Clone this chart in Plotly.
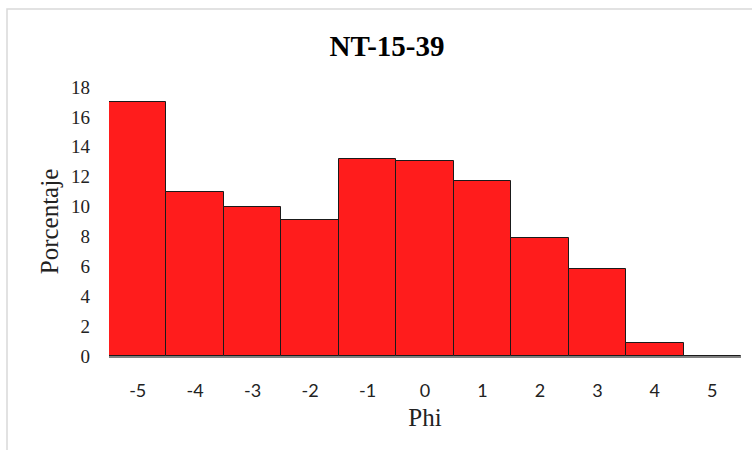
import plotly.graph_objects as go

phi = [-5, -4, -3, -2, -1, 0, 1, 2, 3, 4, 5]
porcentaje = [17.0, 11.0, 10.0, 9.1, 13.2, 13.05, 11.7, 7.9, 5.85, 0.9, 0.0]
y_ticks = [0, 2, 4, 6, 8, 10, 12, 14, 16, 18]

W, H = 752, 450
L, R, T, B = 109, 11, 87, 94
pw, ph = W - L - R, H - T - B
SERIF = "'Liberation Serif', 'Times New Roman', Times, serif"

fig = go.Figure(go.Bar(
    x=phi, y=porcentaje,
    marker=dict(color="#FF1C1C", line=dict(color="#1a1a1a", width=1)),
))

fig.update_layout(
    width=W, height=H,
    margin=dict(l=L, r=R, t=T, b=B),
    paper_bgcolor="white", plot_bgcolor="white",
    bargap=0, showlegend=False,
    title=dict(text="<b>NT-15-39</b>", x=387 / W, xref="container", xanchor="center",
               y=1 - 46 / H, yref="container", yanchor="middle",
               font=dict(family=SERIF, size=29, color="black")),
    xaxis=dict(range=[-5.5, 5.5], tickvals=phi, ticktext=[str(v) for v in phi],
               showgrid=False, zeroline=False, showline=True, linecolor="#808080", linewidth=1.5,
               ticks="", ticklabelstandoff=18,
               tickfont=dict(family="Lato, 'Open Sans', sans-serif", size=18, color="#222"),
               title=dict(text="Phi", standoff=8,
                          font=dict(family=SERIF, size=25, color="#222"))),
    yaxis=dict(range=[0, 18], tickvals=y_ticks, showgrid=False, zeroline=False, showline=False,
               ticks="", ticklabelstandoff=18,
               tickfont=dict(family=SERIF, size=19, color="#222"),
               title=dict(text="Porcentaje", standoff=5,
                          font=dict(family=SERIF, size=25, color="#222"))),
    shapes=[dict(type="rect", xref="paper", yref="paper",
                 x0=(7 - L) / pw, x1=(W + 20 - L) / pw,
                 y0=(H - B - (H + 20)) / ph, y1=(H - B - 9) / ph,
                 line=dict(color="#d9d9d9", width=1.5), fillcolor="rgba(0,0,0,0)", layer="below")],
)

fig.write_html("out.html")
